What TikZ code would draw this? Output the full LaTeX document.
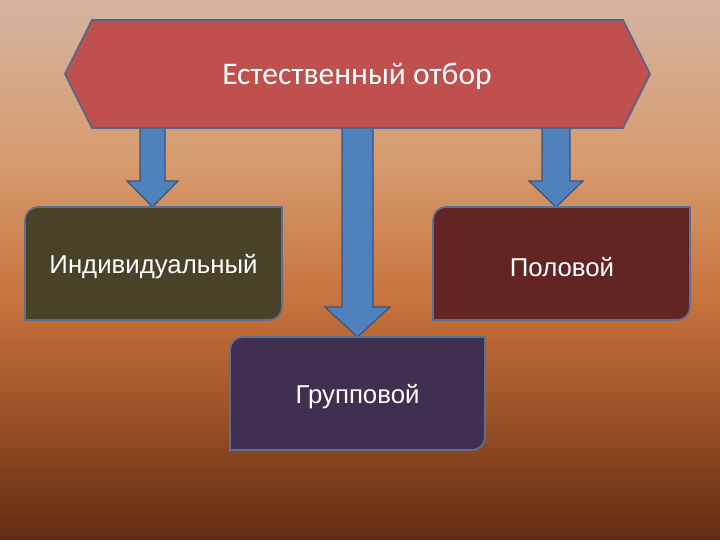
\documentclass[tikz,border=0pt]{standalone}
\usepackage{fontspec}
\setmainfont{Liberation Sans}
\newfontfamily\calib{Carlito}
\definecolor{bgA}{RGB}{213,180,160}
\definecolor{bgB}{RGB}{214,155,110}
\definecolor{bgC}{RGB}{200,116,62}
\definecolor{bgD}{RGB}{148,76,35}
\definecolor{bgE}{RGB}{96,44,17}
\definecolor{hexfill}{RGB}{192,80,77}
\definecolor{edgeblue}{RGB}{84,100,140}
\definecolor{arrfill}{RGB}{79,129,189}
\definecolor{arredge}{RGB}{60,84,122}
\definecolor{olivebox}{RGB}{73,66,40}
\definecolor{maroonbox}{RGB}{98,37,36}
\definecolor{purplebox}{RGB}{65,47,82}
\definecolor{boxedge}{RGB}{92,112,150}
\pgfdeclareverticalshading{bgshade}{100bp}{color(0bp)=(bgE); color(25bp)=(bgE); color(35bp)=(bgD); color(47.5bp)=(bgC); color(60bp)=(bgB); color(75bp)=(bgA); color(100bp)=(bgA)}
\tikzset{
  blockarrow/.style={fill=arrfill, draw=arredge, line width=1.2pt, line join=miter},
  boxshape/.style={draw=boxedge, line width=1.6pt},
  boxtext/.style={text=white, font=\fontsize{25.8}{30}\selectfont, inner sep=0pt},
}
\begin{document}
\begin{tikzpicture}[x=1pt,y=-1pt]
\useasboundingbox (0,0) rectangle (720,540);
\fill[shading=bgshade] (0,0) rectangle (720,540);
% arrows
\draw[blockarrow] (140,126) -- (165,126) -- (165,181) -- (178,181) -- (152.5,207) -- (127,181) -- (140,181) -- cycle;
\draw[blockarrow] (342,126) -- (373,126) -- (373,307) -- (390,307) -- (357.5,337) -- (325,307) -- (342,307) -- cycle;
\draw[blockarrow] (542,126) -- (570,126) -- (570,181) -- (583,181) -- (556,207) -- (529,181) -- (542,181) -- cycle;
% hexagon
\draw[fill=hexfill, draw=edgeblue, line width=1.6pt, line join=miter] (92,20) -- (623,20) -- (650,74) -- (623,128) -- (92,128) -- (65,74) -- cycle;
\node[text=white, inner sep=0pt, font=\calib\fontsize{31.5}{36}\selectfont] (top) at (357,76) {Естественный отбор};
% boxes
\draw[boxshape, fill=olivebox] (25,264) {[rounded corners=13] -- (25,207) -- (150,207)} -- (282,207) -- (282,264) {[rounded corners=13] -- (282,320) -- (150,320)} -- (25,320) -- cycle;
\node[boxtext] (ind) at (153.5,267) {Индивидуальный};
\draw[boxshape, fill=maroonbox] (433,264) {[rounded corners=13] -- (433,207) -- (560,207)} -- (690,207) -- (690,264) {[rounded corners=13] -- (690,320) -- (560,320)} -- (433,320) -- cycle;
\node[boxtext] (pol) at (562,267) {Половой};
\draw[boxshape, fill=purplebox] (230,393) {[rounded corners=13] -- (230,337) -- (357,337)} -- (485,337) -- (485,393) {[rounded corners=13] -- (485,450) -- (357,450)} -- (230,450) -- cycle;
\node[boxtext] (grp) at (357.5,397) {Групповой};
\end{tikzpicture}
\end{document}
